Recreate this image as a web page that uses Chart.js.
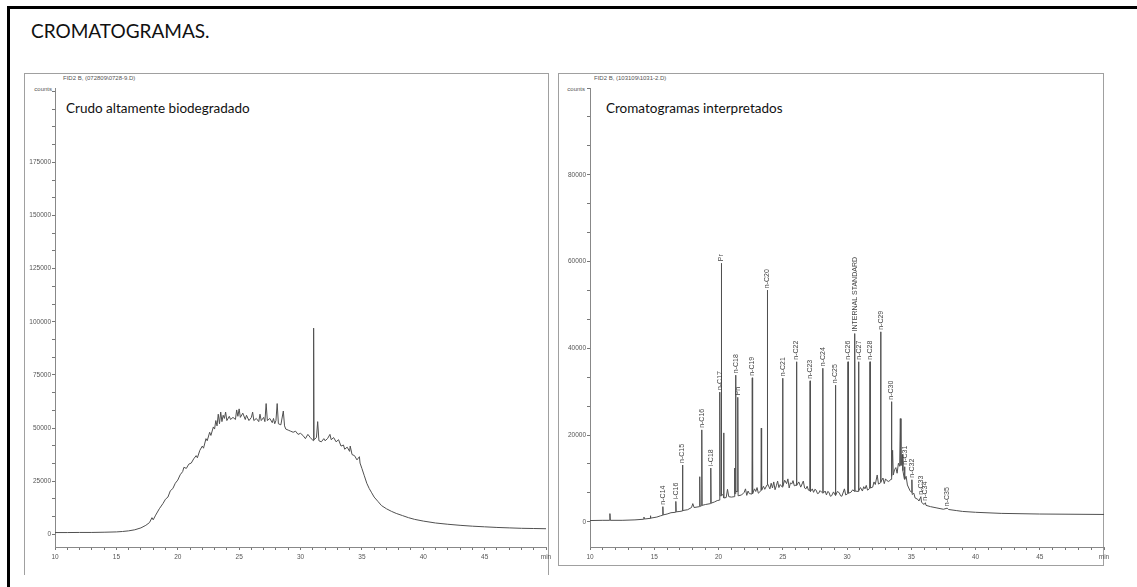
<!DOCTYPE html>
<html><head><meta charset="utf-8">
<script src="https://cdn.jsdelivr.net/npm/chart.js@4.4.1/dist/chart.umd.min.js"></script>
<style>
html,body{margin:0;padding:0;background:#fff}
body{width:1137px;height:587px;overflow:hidden;position:relative;font-family:"Liberation Sans",Arial,sans-serif}
.frame{position:absolute;left:7px;top:6px;width:1150px;height:610px;border-top:3px solid #000;border-left:3px solid #000}
.title{position:absolute;left:31px;top:19px;font:19px Lato,"Open Sans",sans-serif;color:#111;white-space:nowrap}
.panel{position:absolute;border:1px solid #a0a0a0;box-sizing:border-box}
.fid{position:absolute;font-size:6px;color:#555;white-space:nowrap}
.counts{position:absolute;font-size:6px;color:#555;white-space:nowrap;text-align:right;width:40px}
.sub{position:absolute;font:13.5px Lato,"Open Sans",sans-serif;color:#111;white-space:nowrap}
canvas{position:absolute}
</style></head>
<body>
<div class="frame"></div>
<div class="title">CROMATOGRAMAS.</div>

<div class="panel" style="left:24px;top:73px;width:525px;height:502px;border-bottom:none"></div>
<div class="panel" style="left:558px;top:73px;width:546px;height:493px"></div>

<div class="fid" style="left:63px;top:75px">FID2 B, (072809\0728-9.D)</div>
<div class="counts" style="left:12px;top:86px">counts</div>
<div class="sub" style="left:66px;top:100px">Crudo altamente biodegradado</div>

<div class="fid" style="left:594px;top:75px">FID2 B, (103109\1031-2.D)</div>
<div class="counts" style="left:545px;top:86px">counts</div>
<div class="sub" style="left:606px;top:100px">Cromatogramas interpretados</div>

<canvas id="cL" width="540" height="500" style="left:24px;top:74px"></canvas>
<canvas id="cR" width="560" height="500" style="left:558px;top:74px"></canvas>

<script>
// ---------- data: left chromatogram (Crudo altamente biodegradado) ----------
const leftTimes = [10.0,11.0,12.0,13.0,14.0,15.0,15.5,16.0,16.5,17.0,17.4,17.7,17.9,18.0,18.2,18.5,18.8,19.0,19.2,19.4,19.6,19.8,20.0,20.2,20.4,20.5,20.7,20.9,21.1,21.3,21.5,21.6,21.8,22.0,22.1,22.3,22.4,22.6,22.7,22.9,23.0,23.1,23.2,23.3,23.4,23.5,23.6,23.7,23.8,23.9,24.0,24.2,24.3,24.5,24.7,24.8,24.9,25.0,25.1,25.3,25.5,25.6,25.8,26.0,26.1,26.2,26.4,26.6,26.7,26.8,27.0,27.1,27.2,27.3,27.5,27.7,27.8,27.9,28.0,28.1,28.2,28.4,28.6,28.7,28.8,29.0,29.2,29.4,29.6,29.8,30.0,30.2,30.4,30.6,30.8,31.04,31.07,31.1,31.3,31.4,31.5,31.7,31.9,32.0,32.2,32.4,32.5,32.7,32.9,33.1,33.3,33.5,33.6,33.8,34.0,34.05,34.2,34.4,34.6,34.8,34.85,35.0,35.2,35.4,35.6,35.8,36.0,36.3,36.6,37.0,37.4,37.8,38.3,38.8,39.3,40.0,41.0,42.0,43.0,44.0,45.0,46.0,47.0,48.0,49.0,50.0];
const leftCounts = [800,800,850,850,950,1100,1300,1600,2100,3000,4200,5500,7800,6800,9000,12000,14500,16500,17500,20500,21500,24000,25500,28000,29500,31500,31000,33000,33500,35500,37000,36000,39500,41500,40500,45000,44000,48000,46500,50500,49500,53500,51000,56500,52000,57500,53000,56000,54500,57500,53500,55500,54000,55000,54000,58500,55500,59000,55000,57000,54000,56000,53500,55000,57500,53500,54500,53000,56500,53500,55000,53000,61500,53500,54500,52500,54500,52000,53500,61500,52000,51500,58000,51000,49500,49000,48500,48000,48500,47000,47500,46500,45000,47000,45500,44000,97000,44500,45500,53000,44000,43500,45000,44000,45000,47000,44500,45500,43500,44500,41500,42000,40000,41000,39000,41500,37500,37000,35000,36500,33500,31000,27500,24000,21500,19500,17500,15500,13500,12000,10800,9800,8800,7800,7000,6200,5300,4700,4200,3800,3500,3200,3000,2800,2700,2600];

// ---------- data: right chromatogram (Cromatogramas interpretados) ----------
const rightTimes = [
 10.0,11.0,11.52,11.55,11.58,12.5,13.5,14.17,14.2,14.23,14.67,14.7,14.73,15.2,15.5,
 15.645,15.67,15.695,16.0,16.3,16.655,16.68,16.705,17.0,17.175,17.2,17.225,17.6,17.9,18.0,18.1,
 18.515,18.54,18.565,18.675,18.7,18.725,19.0,19.375,19.4,19.425,19.7,19.9,
 20.075,20.1,20.13,20.195,20.22,20.245,20.375,20.4,20.425,20.6,20.7,20.8,21.0,
 21.225,21.25,21.275,21.305,21.33,21.355,21.475,21.5,21.525,21.8,22.0,22.1,22.2,22.3,22.4,
 22.605,22.63,22.655,22.8,22.9,23.0,23.1,23.305,23.33,23.355,23.5,23.6,23.775,23.8,23.825,
 24.0,24.1,24.2,24.3,24.4,24.5,24.6,24.7,24.8,24.965,24.99,25.015,25.15,25.3,25.4,25.5,25.6,25.7,25.8,25.9,
 26.045,26.07,26.095,26.25,26.4,26.6,26.7,26.8,26.9,27.0,27.105,27.13,27.155,27.3,27.4,27.5,27.6,27.7,27.8,27.9,28.0,
 28.095,28.12,28.145,28.3,28.4,28.5,28.6,28.7,28.8,28.95,29.075,29.1,29.125,29.25,29.4,29.5,29.6,29.8,29.9,
 30.055,30.08,30.105,30.3,30.45,30.575,30.6,30.625,30.875,30.9,30.925,31.05,31.2,31.3,31.4,31.5,31.6,
 31.765,31.79,31.815,32.0,32.1,32.2,32.35,32.45,32.595,32.62,32.645,32.8,32.9,33.0,33.1,33.25,
 33.425,33.45,33.5,33.55,33.6,33.7,33.8,33.9,34.0,34.1,34.15,34.2,34.3,34.35,
 34.455,34.48,34.505,34.6,34.7,34.9,35.025,35.05,35.075,35.2,35.3,35.5,35.6,35.75,35.8,
 36.0,36.1,36.15,36.5,37.0,37.5,37.8,37.9,38.5,39.0,40.0,42.0,45.0,50.0];
const rightCounts = [
 300,350,350,1900,350,350,450,600,1100,650,800,1400,850,1100,1400,
 1500,3500,1600,1800,2100,2200,4700,2300,2400,2500,13100,2600,2800,3300,4200,3300,
 3500,10400,3600,3700,21200,3800,4000,4200,12400,4300,4600,4900,
 5000,29900,6000,6000,59600,6500,6000,20500,5500,5600,7500,5800,5700,
 5800,12400,6500,6500,33800,7000,7000,28700,6000,6200,6800,7600,6100,7100,6500,
 6400,33200,6500,7600,7000,7900,6600,7200,21600,7300,8200,7500,8500,53400,8800,
 7600,8900,7800,9200,7400,8300,9400,7900,8600,8000,33100,8200,9600,8800,9900,7800,9000,8700,9500,8300,
 8500,36900,8400,9200,8000,9400,7800,7600,8200,7300,7200,32500,7000,7600,6800,7500,7300,6500,6600,7200,6900,
 6700,35400,6600,7100,6200,7000,6800,5900,6000,6900,6200,31500,6100,7000,6700,6000,5900,7600,6200,
 6500,36900,6600,6800,7400,7000,43400,7100,7000,36900,7200,7900,7100,8100,7600,8400,7300,
 7700,36900,7800,8000,9200,8600,10800,8700,9000,43800,9200,10100,8800,9900,9500,9300,
 9800,27700,10500,16500,10800,12000,12500,11200,13500,12800,23800,13000,15500,11800,
 10000,12700,9800,10500,8500,7200,6800,9700,6300,6600,5500,5200,4800,5800,4500,
 4000,4400,3800,3500,3200,2900,3150,2850,2600,2400,2200,1950,1800,1700];

// peak identifications (names and retention times)
const peakNames = ["n-C14","i-C16","n-C15","n-C16","i-C18","n-C17","Pr","n-C18","Ph","n-C19","n-C20","n-C21","n-C22","n-C23","n-C24","n-C25","n-C26","INTERNAL STANDARD","n-C27","n-C28","n-C29","n-C30","n-C31","n-C32","n-C33","n-C34","n-C35"];
const peakTimes = [15.67,16.68,17.2,18.7,19.4,20.1,20.22,21.33,21.5,22.63,23.8,24.99,26.07,27.13,28.12,29.1,30.08,30.6,30.9,31.79,32.62,33.45,34.48,35.05,35.75,36.1,37.8];

// ---------- axis ticks ----------
const xTickValues = [10,11,12,13,14,15,16,17,18,19,20,21,22,23,24,25,26,27,28,29,30,31,32,33,34,35,36,37,38,39,40,41,42,43,44,45,46,47,48,49,50];
const xTickLabels = {10:"10",15:"15",20:"20",25:"25",30:"30",35:"35",40:"40",45:"45",50:"min"};
const leftYTickValues = [0,8333,16667,25000,33333,41667,50000,58333,66667,75000,83333,91667,100000,108333,116667,125000,133333,141667,150000,158333,166667,175000,183333,191667,200000,208333];
const leftYTickLabels = {0:"0",25000:"25000",50000:"50000",75000:"75000",100000:"100000",125000:"125000",150000:"150000",175000:"175000"};
const rightYTickValues = [0,6667,13333,20000,26667,33333,40000,46667,53333,60000,66667,73333,80000,86667,93333,100000];
const rightYTickLabels = {0:"0",20000:"20000",40000:"40000",60000:"60000",80000:"80000"};
const leftRange = {xmin:10,xmax:50,ymin:-6000,ymax:210000};
const rightRange = {xmin:10,xmax:50,ymin:-5800,ymax:100000};

const tickFont = {family:"'Liberation Sans', Arial, sans-serif", size:6.5};
const tickColor = "#555";

function makeChart(id, times, counts, xt, xl, yt, yl, rng, pad, peaks){
  const plugins = [];
  if (peaks){
    plugins.push({
      id:'peakLabels',
      afterDatasetsDraw(chart){
        const {ctx, scales:{x,y}} = chart;
        ctx.save();
        ctx.font = "7px 'Liberation Sans', Arial, sans-serif";
        ctx.fillStyle = "#444";
        ctx.textAlign = "left";
        ctx.textBaseline = "middle";
        peaks.names.forEach((n,i)=>{
          const t = peaks.times[i];
          const idx = times.indexOf(t);
          const v = counts[idx];
          const px = x.getPixelForValue(t);
          const py = y.getPixelForValue(v);
          ctx.save();
          ctx.translate(px, py - 2);
          ctx.rotate(-Math.PI/2);
          ctx.fillText(n, 0, 0);
          ctx.restore();
        });
        ctx.restore();
      }
    });
  }
  return new Chart(document.getElementById(id), {
    type:'line',
    data:{datasets:[{
      data: times.map((t,i)=>({x:t,y:counts[i]})),
      borderColor:'#505050', borderWidth:1, pointRadius:0, tension:0, fill:false
    }]},
    options:{
      responsive:false, animation:false, devicePixelRatio:1,
      layout:{padding:pad},
      plugins:{legend:{display:false}, tooltip:{enabled:false}, title:{display:false}},
      scales:{
        x:{
          type:'linear', min:rng.xmin, max:rng.xmax,
          afterBuildTicks:(s)=>{ s.ticks = xt.map(v=>({value:v})); },
          afterFit:(s)=>{ s.height = 27; },
          ticks:{autoSkip:false, maxRotation:0, minRotation:0, padding:3, font:tickFont, color:tickColor,
                 callback:(v)=> (xl[v] !== undefined ? xl[v] : '')},
          grid:{drawOnChartArea:false, drawTicks:true, tickLength:3, color:'#777', lineWidth:1},
          border:{display:true, color:'#888', width:1}
        },
        y:{
          type:'linear', min:rng.ymin, max:rng.ymax,
          afterBuildTicks:(s)=>{ s.ticks = yt.map(v=>({value:v})); },
          afterFit:(s)=>{ s.width = pad.ywidth; },
          ticks:{autoSkip:false, padding:1, font:tickFont, color:tickColor,
                 callback:(v)=> (yl[v] !== undefined ? yl[v] : '')},
          grid:{drawOnChartArea:false, drawTicks:true, tickLength:3, color:'#777', lineWidth:1},
          border:{display:true, color:'#888', width:1}
        }
      }
    },
    plugins
  });
}

makeChart('cL', leftTimes, leftCounts, xTickValues, xTickLabels, leftYTickValues, leftYTickLabels, leftRange,
  {left:0, right:18, top:14, bottom:0, ywidth:31}, null);
makeChart('cR', rightTimes, rightCounts, xTickValues, xTickLabels, rightYTickValues, rightYTickLabels, rightRange,
  {left:0, right:14, top:14, bottom:0, ywidth:32}, {names:peakNames, times:peakTimes});
</script>
</body></html>
